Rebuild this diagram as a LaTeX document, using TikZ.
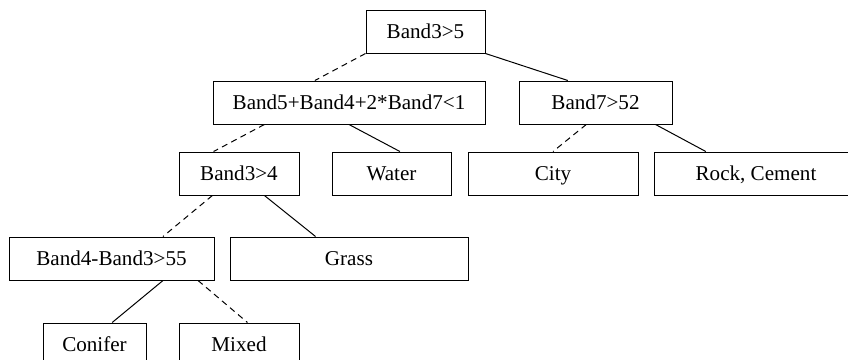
\documentclass[tikz,border=0pt]{standalone}
\usepackage{fontspec}
\setmainfont{Liberation Serif}
\usetikzlibrary{calc}
\begin{document}
\begin{tikzpicture}[x=1pt,y=-1pt,
  box/.style={draw, rectangle, line width=1pt, inner sep=0pt,
    minimum height=43pt, text height=14pt, text depth=0pt,
    font=\fontsize{21.1}{24}\selectfont},
  yes/.style={line width=1pt},
  no/.style={line width=1pt, dash pattern=on 6pt off 4.5pt}]
\useasboundingbox (0,0) rectangle (848,359);
\clip (0,0) rectangle (848,359);
% decision nodes and leaves
\node[box, minimum width=119pt] (n1) at (425.5,31.5) {Band3>5};
\node[box, minimum width=272pt] (n2) at (349,102.5) {Band5+Band4+2*Band7<1};
\node[box, minimum width=153pt] (n3) at (595.5,102.5) {Band7>52};
\node[box, minimum width=120pt] (n4) at (239,173.5) {Band3>4};
\node[box, minimum width=119pt] (n5) at (391.5,173.5) {Water};
\node[box, minimum width=170pt] (n6) at (553,173.5) {City};
\node[box, minimum width=204pt] (n7) at (756,173.5) {Rock, Cement};
\node[box, minimum width=205pt] (n8) at (111.5,258.5) {Band4-Band3>55};
\node[box, minimum width=238pt] (n9) at (349,258.5) {Grass};
\node[box, minimum width=103pt] (n10) at (94.5,344.5) {Conifer};
\node[box, minimum width=120pt] (n11) at (239,344.5) {Mixed};
% branches: dashed = false, solid = true
\draw[no]  (n1.south west) -- ($(n2.north west)!0.375!(n2.north east)$);
\draw[yes] (n1.south east) -- ($(n3.north west)!0.32!(n3.north east)$);
\draw[no]  ($(n2.south west)!0.19!(n2.south east)$) -- ($(n4.north west)!0.29!(n4.north east)$);
\draw[yes] ($(n2.south west)!0.5!(n2.south east)$) -- ($(n5.north west)!0.57!(n5.north east)$);
\draw[no]  ($(n3.south west)!0.44!(n3.south east)$) -- ($(n6.north west)!0.5!(n6.north east)$);
\draw[yes] ($(n3.south west)!0.89!(n3.south east)$) -- ($(n7.north west)!0.255!(n7.north east)$);
\draw[no]  ($(n4.south west)!0.28!(n4.south east)$) -- ($(n8.north west)!0.75!(n8.north east)$);
\draw[yes] ($(n4.south west)!0.71!(n4.south east)$) -- ($(n9.north west)!0.36!(n9.north east)$);
\draw[yes] ($(n8.south west)!0.75!(n8.south east)$) -- ($(n10.north west)!0.67!(n10.north east)$);
\draw[no]  ($(n8.south west)!0.92!(n8.south east)$) -- ($(n11.north west)!0.57!(n11.north east)$);
\end{tikzpicture}
\end{document}
